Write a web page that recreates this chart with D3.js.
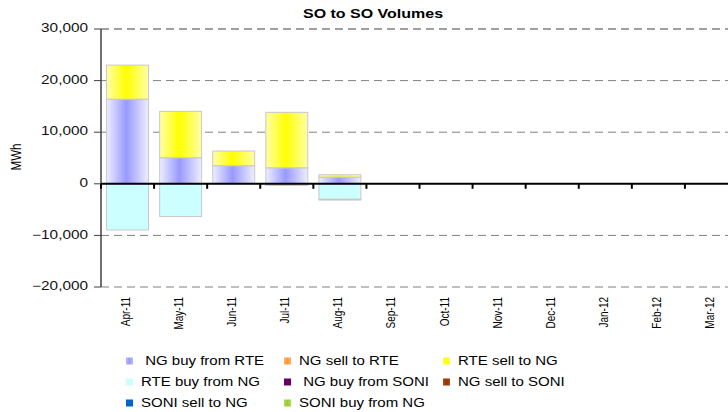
<!DOCTYPE html>
<html>
<head>
<meta charset="utf-8">
<script src="https://cdn.jsdelivr.net/npm/d3@7"></script>
<style>
    body { margin: 0; background: #fff; }
    svg { display: block; font-family: "Liberation Sans", Arial, sans-serif; }
    text { white-space: pre; }
</style>
</head>
<body>
<div id="chart"></div>
<script>
const months = ["Apr-11", "May-11", "Jun-11", "Jul-11", "Aug-11", "Sep-11",
    "Oct-11", "Nov-11", "Dec-11", "Jan-12", "Feb-12", "Mar-12"];

const ngBuyFromRte  = [16400, 5050, 3500, 3100, 1300, 0, 0, 0, 0, 0, 0, 0];
const ngSellToRte   = [0, 0, 0, -300, 0, 0, 0, 0, 0, 0, 0, 0];
const rteSellToNg   = [6600, 9000, 2850, 10750, 450, 0, 0, 0, 0, 0, 0, 0];
const rteBuyFromNg  = [-8950, -6350, 0, 0, -3000, 0, 0, 0, 0, 0, 0, 0];
const ngBuyFromSoni = [0, 0, 0, 0, 0, 0, 0, 0, 0, 0, 0, 0];
const ngSellToSoni  = [0, 0, 0, 0, 0, 0, 0, 0, 0, 0, 0, 0];
const soniSellToNg  = [0, 0, 0, 0, 0, 0, 0, 0, 0, 0, 0, 0];
const soniBuyFromNg = [0, 0, 0, 0, -150, 0, 0, 0, 0, 0, 0, 0];

const yTicks = [-20000, -10000, 0, 10000, 20000, 30000];

const series = [
    { key: "NG buy from RTE",  label: " NG buy from RTE",  values: ngBuyFromRte,  edge: "#eeeeff", mid: "#9999ff" },
    { key: "NG sell to RTE",   label: "NG sell to RTE",    values: ngSellToRte,   edge: "#ffd9b0", mid: "#ff9933" },
    { key: "RTE sell to NG",   label: "RTE sell to NG",    values: rteSellToNg,   edge: "#ffffa8", mid: "#ffff00" },
    { key: "RTE buy from NG",  label: "RTE buy from NG",   values: rteBuyFromNg,  edge: "#ccffff", mid: "#ccffff" },
    { key: "NG buy from SONI", label: " NG buy from SONI", values: ngBuyFromSoni, edge: "#660066", mid: "#660066" },
    { key: "NG sell to SONI",  label: "NG sell to SONI",   values: ngSellToSoni,  edge: "#c0703a", mid: "#993300" },
    { key: "SONI sell to NG",  label: "SONI sell to NG",   values: soniSellToNg,  edge: "#0066cc", mid: "#0066cc" },
    { key: "SONI buy from NG", label: "SONI buy from NG",  values: soniBuyFromNg, edge: "#d6eaa0", mid: "#99cc33" }
];

const width = 728;
const height = 412;
const plotLeft = 101;
const plotRight = 738;   // plot runs past the window edge, like the original
const plotTop = 29;
const plotBottom = 287;
const stretch = 1.28;    // the source text is wider than it is tall

const x = d3.scaleBand().domain(months).range([plotLeft, plotRight]).padding(0);
const y = d3.scaleLinear().domain([-20000, 30000]).range([plotBottom, plotTop]);
const barW = x.bandwidth() * 0.79;

const svg = d3.select("#chart").append("svg")
    .attr("width", width)
    .attr("height", height);

// horizontal shaded fills, a softer one for the legend keys
const defs = svg.append("defs");
series.forEach((s, i) => {
    const g = defs.append("linearGradient")
        .attr("id", "grad" + i)
        .attr("x1", "0%").attr("x2", "100%");
    g.append("stop").attr("offset", "0%").attr("stop-color", s.edge);
    g.append("stop").attr("offset", "47%").attr("stop-color", s.mid);
    g.append("stop").attr("offset", "100%").attr("stop-color", s.edge);

    const k = defs.append("linearGradient")
        .attr("id", "key" + i)
        .attr("x1", "0%").attr("x2", "100%");
    const soft = d3.interpolateRgb(s.edge, s.mid)(0.6);
    k.append("stop").attr("offset", "0%").attr("stop-color", soft);
    k.append("stop").attr("offset", "50%").attr("stop-color", s.mid);
    k.append("stop").attr("offset", "100%").attr("stop-color", soft);
});

// title
svg.append("text")
    .attr("transform", `translate(373, 18) scale(${stretch},1)`)
    .attr("text-anchor", "middle")
    .attr("font-size", "12.5px")
    .attr("font-weight", "bold")
    .text("SO to SO Volumes");

// dashed gridlines
svg.append("g").selectAll("line")
    .data(yTicks.filter(t => t !== 0))
    .join("line")
    .attr("x1", plotLeft).attr("x2", plotRight)
    .attr("y1", d => y(d)).attr("y2", d => y(d))
    .attr("stroke", "#808080")
    .attr("stroke-width", d => d === 30000 ? 1.5 : 1)
    .attr("stroke-dasharray", "8,5");

// stacked bars
const rows = months.map((m, i) => {
    const r = { month: m };
    series.forEach(s => { r[s.key] = s.values[i]; });
    return r;
});
const stacked = d3.stack()
    .keys(series.map(s => s.key))
    .offset(d3.stackOffsetDiverging)(rows);

svg.append("g").selectAll("g")
    .data(stacked)
    .join("g")
    .attr("fill", (d, i) => `url(#grad${i})`)
    .selectAll("rect")
    .data(d => d.filter(p => p[1] !== p[0]))
    .join("rect")
    .attr("x", d => x(d.data.month) + (x.bandwidth() - barW) / 2)
    .attr("width", barW)
    .attr("y", d => y(Math.max(d[0], d[1])))
    .attr("height", d => Math.abs(y(d[0]) - y(d[1])))
    .attr("stroke", "#c8c8c8")
    .attr("stroke-width", 1);

// y axis
const yAxis = svg.append("g");
yAxis.append("line")
    .attr("x1", plotLeft).attr("x2", plotLeft)
    .attr("y1", plotTop).attr("y2", plotBottom)
    .attr("stroke", "#404040")
    .attr("stroke-width", 1.5);
yAxis.selectAll("line.tick")
    .data(yTicks)
    .join("line")
    .attr("class", "tick")
    .attr("x1", plotLeft - 7).attr("x2", plotLeft)
    .attr("y1", d => y(d)).attr("y2", d => y(d))
    .attr("stroke", "#404040")
    .attr("stroke-width", 1);
yAxis.selectAll("text")
    .data(yTicks)
    .join("text")
    .attr("transform", d => `translate(88, ${y(d) - 1}) scale(${stretch},1)`)
    .attr("text-anchor", "end")
    .attr("dy", "0.35em")
    .attr("font-size", "12px")
    .attr("fill", "#111")
    .text(d => d3.format(",")(d));

svg.append("text")
    .attr("transform", `translate(16, 157) scale(${stretch},1) rotate(-90)`)
    .attr("text-anchor", "middle")
    .attr("dy", "0.35em")
    .attr("font-size", "11.5px")
    .text("MWh");

// zero line with category ticks
svg.append("line")
    .attr("x1", plotLeft).attr("x2", plotRight)
    .attr("y1", y(0)).attr("y2", y(0))
    .attr("stroke", "#000")
    .attr("stroke-width", 2);
svg.append("g").selectAll("line")
    .data(months.concat(["end"]))
    .join("line")
    .attr("x1", (d, i) => plotLeft + i * x.step())
    .attr("x2", (d, i) => plotLeft + i * x.step())
    .attr("y1", y(0)).attr("y2", y(0) + 5)
    .attr("stroke", "#000")
    .attr("stroke-width", 2);

// month labels
svg.append("g").selectAll("text")
    .data(months)
    .join("text")
    .attr("transform", d => `translate(${x(d) + x.bandwidth() / 2 - 2}, 297) scale(${stretch},1) rotate(-90)`)
    .attr("text-anchor", "end")
    .attr("dy", "0.35em")
    .attr("font-size", "10px")
    .text(d => d);

// legend, three columns
const legendCols = [126, 284, 443];
const legendRows = [361, 382, 403];
const legend = svg.append("g").selectAll("g")
    .data(series)
    .join("g")
    .attr("transform", (d, i) => `translate(${legendCols[i % 3]}, ${legendRows[Math.floor(i / 3)]})`);

legend.append("rect")
    .attr("x", 0).attr("y", -3.5)
    .attr("width", 7).attr("height", 7)
    .attr("fill", (d, i) => `url(#key${i})`);

legend.append("text")
    .attr("transform", `translate(15, 0) scale(1.25,1)`)
    .attr("dy", "0.35em")
    .attr("font-size", "12px")
    .text(d => d.label);
</script>
</body>
</html>
